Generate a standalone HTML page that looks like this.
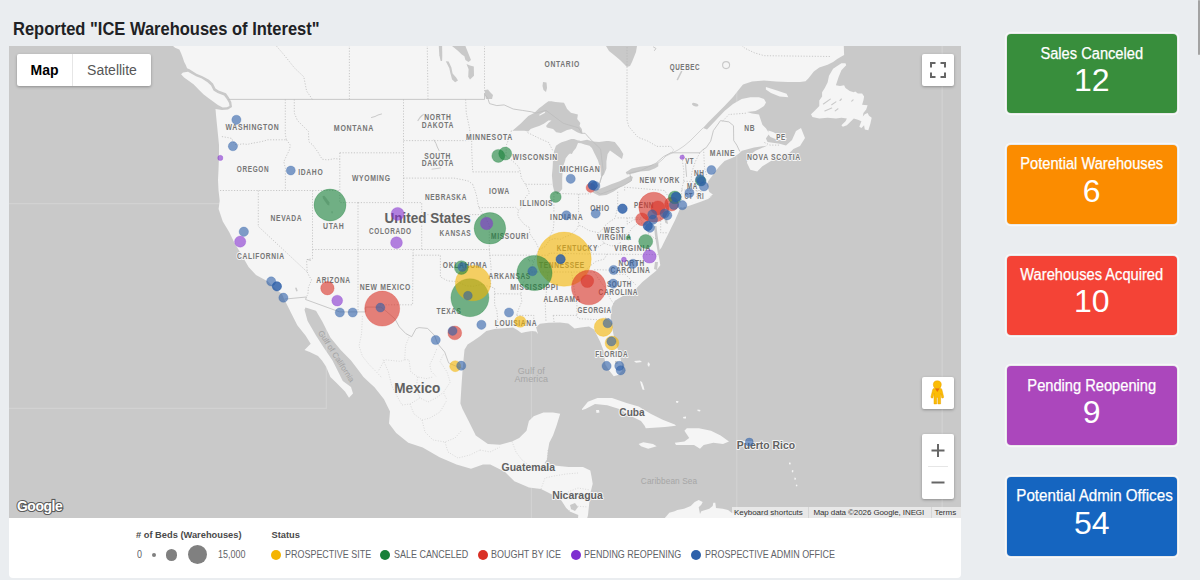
<!DOCTYPE html>
<html><head><meta charset="utf-8"><title>ICE Warehouses</title>
<style>
*{box-sizing:border-box}
html,body{margin:0;padding:0}
body{width:1200px;height:580px;overflow:hidden;background:#eaedf0;font-family:"Liberation Sans",sans-serif;position:relative}
.title{position:absolute;left:13px;top:18.5px;font-size:17.8px;font-weight:bold;color:#202124;white-space:nowrap;transform:scaleX(0.928);transform-origin:0 0}
.map{position:absolute;left:9px;top:46px;width:952px;height:472px;overflow:hidden;background:#c9c9c9}
.map svg{position:absolute;left:0;top:0}
svg text{font-family:"Liberation Sans",sans-serif;text-anchor:middle;dominant-baseline:central;paint-order:stroke;stroke-linejoin:round}
text.s{font-size:8.2px;font-weight:bold;letter-spacing:0.8px;fill:#767676;stroke:#f5f5f5;stroke-width:2px}
text.c{font-size:15px;font-weight:bold;fill:#616161;stroke:#f5f5f5;stroke-width:2.5px}
text.m{font-size:11.2px;font-weight:bold;fill:#616161;stroke:#f5f5f5;stroke-width:2px}
text.w{font-size:9px;fill:#a6a6a6;letter-spacing:0.1px}
text.gc{font-size:8px;fill:#a3a3a3;stroke:#c9c9c9;stroke-width:1px}
.ctl{position:absolute;background:#fff;border-radius:2px;box-shadow:0 1px 3px rgba(0,0,0,0.3)}
.mt{left:8px;top:8px;width:134px;height:32px;font-size:14px}
.mt span{position:absolute;top:0;height:32px;line-height:32px;text-align:center}
.attr{position:absolute;right:0;bottom:0;height:10.6px;background:rgba(245,245,245,0.7);font-size:8px;color:#333;white-space:nowrap;line-height:10.6px}
.attr span{position:absolute;top:0.8px}
.legend{position:absolute;left:9px;top:518px;width:952px;height:60px;background:#fff;border-radius:0 0 4px 4px}
.lg{position:absolute;color:#5f6368;white-space:nowrap}
.lh{font-size:9.3px;font-weight:bold;color:#4a4a4a}
.li{font-size:10.2px;transform:scaleX(0.88);transform-origin:0 0}
.dot{position:absolute;border-radius:50%}
.card{position:absolute;left:1007px;width:169.5px;height:79px;border-radius:4px;color:#fff;text-align:center;box-shadow:0 0 0 1px rgba(0,0,0,0.06),0 0 0 2.2px rgba(255,255,255,0.6)}
.card .t{position:absolute;left:0;right:0;top:10.3px;font-size:15.6px;white-space:nowrap;-webkit-text-stroke:0.25px #fff;transform:scaleX(0.94)}
.card .n{position:absolute;left:0;right:0;top:27.8px;font-size:32px}
.sb{position:absolute;left:1197.7px;top:0;width:2.3px;height:55px;background:#a3a3a3;border-radius:1.2px}
</style></head><body>
<div class="title">Reported "ICE Warehouses of Interest"</div>
<div class="map">
<svg width="952" height="472" viewBox="9 46 952 472">
<g stroke="#d2d2d2" stroke-width="1.2" fill="none">
<path d="M9,203.6 H326.3"/><path d="M9,408.3 H326.3 V203.6"/>
<path d="M531.45,46 V518"/><path d="M736.8,46 V518"/><path d="M942.2,46 V518"/>
</g>
<path d="M173.0,46.0 L843.8,46.0 L844.1,55.0 L841.4,56.4 L837.2,59.1 L833.1,61.9 L827.6,64.7 L819.3,67.4 L813.8,71.6 L808.3,78.4 L805.5,81.2 L800.0,81.9 L788.0,82.0 L776.0,81.5 L764.0,80.5 L752.0,81.5 L743.0,84.5 L738.5,90.0 L733.0,97.0 L724.5,106.0 L716.0,114.5 L708.0,122.5 L703.0,128.0 L707.0,129.5 L716.0,120.0 L724.5,111.0 L733.0,104.0 L741.7,99.0 L750.3,97.2 L759.0,97.2 L764.0,99.0 L766.0,102.4 L764.0,106.0 L759.0,109.3 L755.5,111.0 L747.0,111.9 L752.0,113.5 L759.0,114.5 L760.7,119.7 L762.4,124.8 L765.9,128.3 L769.3,133.4 L765.9,138.6 L767.6,142.0 L779.7,143.8 L786.0,145.5 L792.0,140.0 L796.0,131.0 L801.0,128.0 L805.0,138.0 L800.0,146.0 L793.4,149.0 L790.0,152.4 L781.4,155.9 L771.0,161.0 L762.4,166.2 L757.2,171.4 L750.3,169.7 L746.9,162.8 L748.6,155.9 L755.5,150.7 L767.6,145.6 L754.0,147.5 L742.0,150.7 L738.3,154.1 L733.1,157.6 L724.5,161.0 L719.0,166.7 L715.3,171.6 L711.7,176.4 L708.1,181.2 L706.9,184.8 L708.1,188.4 L709.3,192.1 L712.9,194.5 L708.1,198.1 L700.9,200.5 L691.2,202.9 L682.8,207.8 L680.5,207.0 L678.3,212.7 L674.9,220.5 L671.5,227.2 L668.2,234.0 L664.8,240.7 L661.5,247.4 L658.0,251.9 L659.2,258.6 L660.3,265.3 L655.9,271.0 L649.1,276.5 L642.4,282.1 L636.5,288.3 L630.3,292.4 L622.0,296.5 L614.8,300.7 L611.7,306.9 L610.7,317.2 L611.7,325.5 L613.8,335.8 L616.9,346.2 L620.0,356.5 L622.0,364.8 L622.0,371.0 L618.0,375.0 L613.8,376.2 L609.6,371.0 L605.5,364.8 L604.5,358.6 L603.4,350.3 L600.3,342.0 L597.2,335.8 L594.0,329.6 L589.0,326.5 L580.7,327.6 L574.5,328.6 L568.3,323.4 L560.0,322.5 L548.4,322.8 L540.0,323.8 L536.0,327.0 L538.0,334.0 L536.0,331.5 L531.8,331.0 L525.6,332.0 L521.4,333.0 L517.3,330.0 L513.0,327.5 L507.0,328.0 L494.5,329.0 L486.3,331.0 L480.0,336.2 L473.8,340.4 L467.6,344.5 L464.5,349.7 L463.5,360.0 L462.4,372.5 L461.4,387.0 L460.4,403.5 L462.5,409.0 L468.6,421.0 L475.8,435.5 L487.9,444.0 L500.0,444.7 L512.0,441.5 L519.2,437.9 L526.5,430.7 L528.9,421.0 L533.7,416.2 L543.4,412.6 L553.0,412.6 L560.2,413.8 L556.5,425.8 L553.0,435.5 L549.3,442.7 L548.0,450.0 L547.0,459.6 L544.5,463.2 L554.0,465.6 L568.6,466.9 L583.0,466.9 L590.3,470.5 L591.5,476.5 L592.7,483.7 L590.3,493.4 L589.0,505.5 L588.0,515.0 L587.0,519.0 L578.0,519.0 L578.3,515.0 L569.8,511.5 L566.2,507.9 L561.4,500.6 L554.0,495.5 L541.0,489.0 L529.0,487.4 L514.4,481.3 L504.8,471.7 L490.3,464.4 L483.0,464.4 L471.0,468.8 L456.5,464.4 L439.6,457.2 L422.7,447.6 L408.3,442.7 L396.2,433.0 L389.0,423.4 L390.0,411.4 L384.0,399.3 L374.5,387.2 L367.7,381.0 L363.5,377.0 L357.3,368.7 L351.0,360.4 L340.7,350.0 L330.4,337.6 L322.0,321.0 L316.0,310.7 L305.5,307.6 L304.5,309.7 L307.6,321.0 L316.0,335.5 L324.0,348.0 L332.5,360.4 L338.7,372.8 L342.8,381.0 L351.0,387.0 L353.0,393.5 L349.0,397.7 L345.0,391.4 L336.6,383.0 L330.4,377.0 L326.0,366.6 L322.0,360.4 L318.0,356.0 L309.7,352.0 L304.5,350.0 L310.7,343.8 L305.5,335.5 L297.3,325.2 L291.0,312.8 L283.8,298.3 L282.0,294.0 L276.6,289.7 L268.0,281.4 L256.0,275.0 L248.6,267.0 L241.4,254.5 L234.0,242.0 L229.0,231.8 L222.8,221.4 L218.6,209.0 L219.7,200.7 L218.5,190.0 L218.0,180.0 L218.5,170.0 L219.0,156.0 L219.0,145.0 L218.0,135.0 L217.0,125.0 L216.0,115.0 L215.5,109.0 L222.0,110.0 L228.0,109.5 L232.0,107.0 L231.3,102.0 L228.8,97.3 L226.0,93.2 L218.5,90.6 L215.5,88.5 L213.0,83.5 L209.0,79.8 L202.5,76.2 L196.5,73.8 L189.5,69.2 L187.1,68.3 L185.9,65.3 L184.1,61.7 L182.9,58.1 L181.1,53.2 L179.3,49.6 L175.1,47.8 Z" fill="#f5f5f5"/>
<path d="M181.1,74.3 L184.1,77.4 L189.0,81.0 L193.8,84.6 L198.6,89.4 L203.4,94.3 L208.3,97.9 L213.1,101.5 L217.9,105.1 L222.7,107.5 L226.9,107.3 L229.5,106.0 L229.0,103.0 L226.5,98.8 L224.0,95.5 L217.5,93.0 L213.5,90.5 L211.0,85.5 L207.5,82.2 L201.8,78.6 L196.0,76.2 L188.0,71.8 L183.0,72.5 Z" fill="#f5f5f5"/>
<path d="M845.5,63.3 L846.2,65.3 L841.4,70.2 L838.6,77.1 L835.9,85.3 L840.0,86.0 L844.1,85.3 L845.5,88.1 L849.7,90.9 L853.8,92.2 L855.2,91.6 L857.9,93.6 L862.1,93.6 L864.1,96.4 L863.4,100.5 L862.1,104.7 L867.6,105.3 L866.2,109.5 L863.4,112.9 L862.8,116.4 L864.8,114.3 L867.6,112.9 L869.0,115.7 L871.7,117.8 L870.3,124.0 L868.3,130.2 L864.8,129.5 L864.1,125.3 L861.4,128.1 L859.3,126.7 L861.4,121.2 L857.9,119.8 L853.8,118.4 L851.0,121.2 L846.9,125.3 L842.8,126.7 L841.4,125.3 L845.5,121.2 L846.9,118.4 L841.4,117.8 L835.9,118.4 L827.6,117.8 L819.3,118.4 L812.4,117.1 L811.0,114.3 L815.2,110.2 L819.3,106.0 L819.3,100.5 L822.1,96.4 L822.1,92.2 L824.8,88.1 L827.6,82.6 L829.0,75.7 L833.1,68.8 L837.2,66.0 L841.4,63.3 Z" fill="#f5f5f5"/>
<path d="M765.9,86.9 L776.2,90.3 L786.6,93.8 L788.3,97.2 L779.7,96.4 L771.0,92.9 L765.9,89.5 Z" fill="#f5f5f5"/>
<path d="M768.5,130.5 L773.0,132.0 L779.0,135.0 L787.0,138.6 L785.0,141.0 L776.5,139.5 L770.5,137.0 L768.0,134.0 Z" fill="#f5f5f5"/>
<path d="M582.0,409.0 L587.9,401.7 L597.5,398.0 L612.0,398.0 L626.5,403.0 L638.6,406.5 L650.6,413.8 L662.7,419.8 L674.8,424.6 L676.0,425.8 L665.0,427.0 L645.8,428.3 L644.6,425.8 L641.0,421.0 L631.3,416.2 L619.3,409.0 L607.2,405.3 L595.0,404.0 L585.5,409.0 L582.0,410.0 Z" fill="#f5f5f5"/>
<path d="M596.0,410.0 L599.0,410.0 L599.5,412.5 L596.5,413.0 Z" fill="#f5f5f5"/>
<path d="M638.6,444.0 L643.4,442.2 L653.0,444.0 L656.7,446.3 L648.2,448.8 L641.0,446.3 Z" fill="#f5f5f5"/>
<path d="M674.8,442.7 L684.4,441.5 L689.2,437.9 L684.4,430.7 L686.8,428.3 L698.9,428.3 L711.0,430.7 L720.6,435.5 L729.0,441.5 L723.0,444.0 L713.4,442.7 L703.7,445.0 L700.0,448.8 L694.0,445.0 L684.4,445.0 L676.0,445.0 Z" fill="#f5f5f5"/>
<path d="M640.0,381.0 L642.0,382.0 L643.5,386.0 L644.5,390.0 L642.5,389.5 L641.0,385.0 Z" fill="#f5f5f5"/>
<path d="M634.0,361.0 L640.0,360.5 L642.0,362.0 L636.0,362.8 Z" fill="#f5f5f5"/>
<path d="M648.0,362.0 L650.0,364.0 L649.0,367.0 L647.5,365.0 Z" fill="#f5f5f5"/>
<path d="M676.0,401.0 L678.5,401.0 L678.0,403.0 L676.0,402.5 Z" fill="#f5f5f5"/>
<path d="M683.0,417.0 L686.0,416.5 L686.0,418.5 L683.5,418.5 Z" fill="#f5f5f5"/>
<path d="M697.5,409.5 L700.5,410.0 L700.0,411.5 L697.5,411.0 Z" fill="#f5f5f5"/>
<path d="M789.0,462.5 L790.8,462.8 L790.5,464.5 L789.0,464.2 Z" fill="#f5f5f5"/>
<path d="M792.0,470.0 L793.5,470.5 L793.0,472.5 L791.8,472.0 Z" fill="#f5f5f5"/>
<path d="M794.5,477.5 L796.0,478.0 L795.5,480.0 L794.3,479.5 Z" fill="#f5f5f5"/>
<path d="M796.0,484.5 L797.5,485.0 L797.0,486.5 L795.8,486.0 Z" fill="#f5f5f5"/>
<path d="M741.0,441.0 L752.0,441.0 L753.0,444.0 L742.0,444.5 Z" fill="#f5f5f5"/>
<path d="M664.0,519.0 L669.3,512.7 L674.7,511.3 L677.3,510.0 L684.0,508.7 L690.7,506.0 L694.7,502.0 L698.7,500.0 L702.7,502.0 L701.3,504.7 L698.7,507.3 L700.0,514.0 L701.3,511.3 L709.3,508.7 L712.7,506.0 L713.3,502.7 L715.3,502.7 L716.0,508.0 L722.7,508.7 L728.0,510.0 L732.0,513.0 L740.0,514.0 L760.0,516.0 L780.0,517.0 L800.0,519.0 Z" fill="#f5f5f5"/>
<path d="M684.0,205.0 L690.0,203.0 L700.0,200.0 L708.0,197.5 L712.0,196.0 L708.0,199.0 L700.0,202.0 L690.0,205.5 L685.0,207.0 Z" fill="#f5f5f5"/>
<path d="M512.4,130.7 L520.5,123.7 L528.3,116.0 L534.5,112.8 L539.1,108.2 L542.2,105.9 L545.3,103.5 L548.4,101.2 L551.5,101.2 L555.4,102.0 L564.0,102.8 L567.1,109.0 L570.9,112.8 L577.9,114.4 L577.2,119.0 L580.3,122.9 L579.5,126.0 L581.8,129.1 L582.5,133.5 L580.3,133.5 L577.2,132.2 L571.7,129.1 L567.1,129.9 L560.9,133.0 L556.2,132.2 L553.1,129.1 L546.9,127.6 L546.1,126.0 L548.4,122.9 L551.5,120.6 L548.4,120.6 L543.8,123.7 L539.1,126.0 L534.5,127.6 L530.6,129.1 L528.3,131.5 L524.4,130.7 L520.5,130.7 L515.1,130.7 Z" fill="#c9c9c9"/>
<path d="M554.0,151.3 L556.0,145.8 L558.8,143.7 L561.6,142.3 L565.7,141.0 L571.2,138.9 L574.0,138.9 L578.1,140.5 L580.3,140.7 L578.0,143.0 L577.4,144.4 L576.0,147.9 L573.3,151.3 L571.9,154.1 L570.0,153.5 L568.4,154.8 L565.7,158.2 L565.0,161.0 L563.6,165.1 L562.5,172.0 L562.2,178.6 L562.2,189.0 L558.0,194.0 L554.5,192.4 L552.8,185.5 L551.9,175.2 L552.6,168.0 L553.0,160.0 Z" fill="#c9c9c9"/>
<path d="M578.0,140.7 L581.0,140.9 L587.1,139.7 L593.1,141.5 L599.1,142.1 L606.4,140.9 L608.8,140.9 L614.8,142.1 L619.6,148.1 L623.3,154.1 L622.0,159.0 L618.4,156.5 L613.6,152.9 L610.0,150.5 L607.6,154.1 L606.4,161.4 L606.4,168.6 L604.0,174.6 L601.5,177.0 L600.9,175.8 L600.3,168.6 L597.9,160.2 L594.3,152.9 L591.9,148.1 L589.5,145.7 L584.7,144.5 L581.0,143.3 L578.0,143.0 Z" fill="#c9c9c9"/>
<path d="M593.1,191.5 L593.1,192.7 L599.1,195.7 L606.4,195.1 L613.6,191.5 L620.8,186.7 L628.1,183.1 L631.7,180.7 L632.9,177.0 L630.5,175.8 L625.7,178.3 L619.6,181.3 L611.2,184.3 L605.2,186.7 L599.1,189.1 L594.3,190.3 Z" fill="#c9c9c9"/>
<path d="M625.7,172.2 L631.7,168.6 L640.0,166.8 L649.0,165.5 L655.2,164.0 L658.3,162.0 L658.3,166.2 L655.2,168.3 L649.0,170.8 L640.0,171.6 L632.9,173.4 L626.9,174.6 Z" fill="#c9c9c9"/>
<path d="M452.0,46.0 L465.4,46.0 L469.1,55.3 L471.0,60.0 L468.5,62.0 L465.4,60.0 L464.4,56.2 L461.7,54.4 L457.9,50.7 Z" fill="#c9c9c9"/>
<path d="M466.5,64.0 L470.0,65.5 L473.8,66.5 L474.0,75.8 L470.0,79.5 L468.2,76.7 L468.6,69.3 Z" fill="#c9c9c9"/>
<path d="M445.8,61.2 L448.6,61.5 L451.4,67.4 L452.6,73.5 L456.1,77.4 L458.0,80.4 L455.1,82.3 L452.1,79.5 L450.3,73.0 L449.3,68.3 Z" fill="#c9c9c9"/>
<path d="M438.8,46.0 L442.1,46.0 L442.3,55.3 L442.1,60.9 L440.7,60.9 L439.3,55.3 Z" fill="#c9c9c9"/>
<path d="M606.0,46.0 L637.0,46.0 L636.0,52.0 L634.0,57.0 L632.0,62.0 L630.0,66.0 L627.0,67.0 L624.0,64.0 L620.0,60.0 L614.0,55.0 L609.0,51.0 Z" fill="#c9c9c9"/>
<path d="M543.0,82.0 L546.5,82.5 L547.0,88.0 L546.0,92.0 L543.5,90.0 L542.5,86.0 Z" fill="#c9c9c9"/>
<path d="M485.0,90.0 L488.0,89.5 L490.0,92.0 L493.0,95.0 L492.0,99.0 L486.0,99.0 L485.0,95.0 Z" fill="#c9c9c9"/>
<path d="M322.5,196.0 L324.5,195.8 L327.0,199.0 L329.5,202.5 L329.3,205.5 L327.5,205.0 L325.0,201.5 L323.0,198.5 Z" fill="#c9c9c9"/>
<path d="M331.5,211.0 L332.8,211.5 L332.6,213.5 L331.4,213.0 Z" fill="#c9c9c9"/>
<path d="M615.0,361.0 L617.5,361.0 L617.5,364.0 L615.0,364.0 Z" fill="#c9c9c9"/>
<path d="M570.0,505.0 L575.0,503.0 L578.0,507.0 L575.0,511.0 L571.0,509.0 Z" fill="#c9c9c9"/>
<path d="M654.0,226.0 L656.5,226.0 L657.5,235.0 L659.0,245.0 L660.0,253.0 L658.0,254.0 L656.5,245.0 L655.0,236.0 Z" fill="#c9c9c9"/>
<path d="M664.0,218.0 L667.0,219.0 L668.0,224.0 L665.5,223.0 Z" fill="#c9c9c9"/>
<path d="M655.0,262.0 L658.0,262.0 L657.0,270.0 L654.0,269.0 Z" fill="#c9c9c9"/>
<path d="M539.1,114.8 L544.6,111.6 L545.2,112.7 L539.6,115.7 Z" fill="#f5f5f5"/>
<path d="M371.5,117.5 L375.0,116.5 L378.0,115.0 L381.5,114.0" fill="none" stroke="#c9c9c9" stroke-width="1.0" stroke-linecap="round" stroke-linejoin="round"/>
<path d="M418.0,120.5 L420.0,117.5 L422.0,115.5 L424.5,114.0" fill="none" stroke="#c9c9c9" stroke-width="1.2" stroke-linecap="round" stroke-linejoin="round"/>
<path d="M434.0,140.0 L436.0,143.5 L437.3,147.0 L439.0,150.5" fill="none" stroke="#c9c9c9" stroke-width="1.0" stroke-linecap="round" stroke-linejoin="round"/>
<path d="M432.0,169.2 L436.0,168.6 L440.5,168.0" fill="none" stroke="#c9c9c9" stroke-width="0.9" stroke-linecap="round" stroke-linejoin="round"/>
<path d="M685.6,163.5 L686.0,170.0 L686.6,176.5" fill="none" stroke="#c9c9c9" stroke-width="1.0" stroke-linecap="round" stroke-linejoin="round"/>
<path d="M681.5,71.5 L679.5,75.5 L677.5,79.5" fill="none" stroke="#c9c9c9" stroke-width="1.6" stroke-linecap="round" stroke-linejoin="round"/>
<path d="M653.5,47.0 L656.0,48.5 L654.5,50.5" fill="none" stroke="#c9c9c9" stroke-width="1.0" stroke-linecap="round" stroke-linejoin="round"/>
<path d="M296.0,288.3 L296.8,290.6" fill="none" stroke="#c9c9c9" stroke-width="1.6" stroke-linecap="round" stroke-linejoin="round"/>
<path d="M307.5,259.5 L310.5,260.3" fill="none" stroke="#c9c9c9" stroke-width="1.0" stroke-linecap="round" stroke-linejoin="round"/>
<circle cx="726.1" cy="65.1" r="3.5" fill="none" stroke="#c9c9c9" stroke-width="1.1"/>
<ellipse cx="695.2" cy="104.7" rx="3.3" ry="1.5" transform="rotate(18 695.2 104.7)" fill="#c9c9c9"/>
<path d="M823.4,104.0 L830.3,99.1" stroke="#c9c9c9" stroke-width="1.1" stroke-linecap="round"/>
<path d="M831.7,104.7 L835.9,101.9" stroke="#c9c9c9" stroke-width="1.1" stroke-linecap="round"/>
<path d="M824.8,110.9 L831.7,108.1" stroke="#c9c9c9" stroke-width="1.1" stroke-linecap="round"/>
<path d="M835.2,110.9 L838.0,108.8" stroke="#c9c9c9" stroke-width="1.1" stroke-linecap="round"/>
<path d="M840.0,100.5 L841.4,99.0" stroke="#c9c9c9" stroke-width="1.1" stroke-linecap="round"/>
<path d="M851.7,101.2 L853.1,99.8" stroke="#c9c9c9" stroke-width="1.1" stroke-linecap="round"/>
<path d="M601.5,176.5 L600.5,180.0 L599.7,183.0 L598.8,185.5 L597.3,189.0 L595.5,191.5" fill="none" stroke="#cfcfcf" stroke-width="0.9" stroke-linejoin="round" stroke-linecap="round"/>
<path d="M703.0,128.0 L696.0,135.0 L690.0,141.0 L684.0,146.0 L678.0,150.0 L672.0,153.0 L666.0,156.0 L662.0,160.0 L658.3,163.0" fill="none" stroke="#cfcfcf" stroke-width="0.9" stroke-linejoin="round" stroke-linecap="round"/>
<g fill="none" stroke="#c4c4c4" stroke-width="0.6" stroke-dasharray="1 1.6"><path d="M362.4,316.0 L361.6,333.8 L359.0,345.9 L362.4,356.2 L369.3,364.8 L376.2,371.7 L382.0,378.0"/><path d="M409.0,337.2 L405.5,345.9 L404.7,359.7 L400.3,361.4 L392.0,360.5 L384.8,359.7 L377.9,371.7"/><path d="M436.6,349.3 L433.1,357.9 L429.7,364.8 L431.4,371.7 L436.6,376.9"/><path d="M443.4,354.5 L440.0,361.4 L446.9,371.7 L450.3,382.1 L443.4,392.4 L447.0,400.0"/><path d="M404.7,359.7 L409.0,359.7 L410.7,371.7 L417.6,376.9 L426.2,378.6 L433.1,376.9"/><path d="M383.1,359.7 L388.3,371.7 L391.7,385.5 L396.9,395.9 L402.0,405.0"/><path d="M417.6,376.9 L416.0,390.0 L420.0,398.0 L428.0,402.0 L436.0,398.0 L443.4,392.4"/><path d="M402.0,405.0 L410.0,404.0 L420.0,398.0"/><path d="M410.0,404.0 L414.0,414.0 L422.0,420.0 L430.0,418.0 L440.0,412.0 L447.0,400.0"/><path d="M422.0,420.0 L425.0,432.0 L433.0,440.0 L445.0,442.0 L455.0,438.0 L462.0,430.0"/><path d="M445.0,442.0 L448.0,452.0 L458.0,458.0 L470.0,455.0 L480.0,450.0"/><path d="M480.0,450.0 L490.0,452.0 L500.0,447.0"/><path d="M512.0,441.5 L516.0,452.0 L522.0,460.0 L530.0,466.0"/><path d="M530.0,466.0 L541.0,468.0 L548.0,462.0"/><path d="M548.0,450.0 L547.0,462.0"/><path d="M541.0,489.0 L545.0,478.0 L554.0,476.0 L566.0,474.0 L578.0,473.0"/><path d="M561.0,500.0 L568.0,492.0 L578.0,488.0 L590.0,490.0"/><path d="M569.0,511.0 L575.0,506.0 L588.0,507.0"/></g>
<g fill="none" stroke="#b4b4b4" stroke-width="0.7" stroke-dasharray="1.2 1.6"><path d="M221.9,136.6 L227.4,137.5 L231.9,138.5 L233.0,141.8 L236.5,145.4 L242.0,143.8 L247.4,144.4 L252.9,143.1 L259.2,142.1 L264.7,140.8 L267.6,139.8 L286.4,139.8"/><path d="M285.3,99.4 L285.3,134.3 L286.4,139.8"/><path d="M286.4,139.8 L290.4,145.1 L289.3,150.2 L287.0,154.8 L283.8,161.8 L285.4,168.1 L285.4,190.5"/><path d="M220.0,190.5 L339.8,190.5"/><path d="M294.3,99.4 L294.3,113.1 L297.5,120.6 L304.3,127.3 L308.4,131.3 L308.9,141.8 L312.9,145.1 L318.0,152.2 L322.1,159.2 L327.5,159.9 L334.8,158.6 L339.8,159.2"/><path d="M339.8,152.8 L339.8,202.6 L358.0,202.6"/><path d="M339.8,152.8 L403.5,152.8"/><path d="M403.5,99.4 L403.5,202.6"/><path d="M358.0,202.6 L421.7,202.6 L421.7,249.5"/><path d="M258.3,190.5 L258.3,226.4 L307.2,272.0"/><path d="M312.5,190.5 L312.5,258.6 L306.6,259.7 L307.2,272.0"/><path d="M307.2,272.0 L309.3,276.4 L311.6,279.8 L308.4,287.4 L307.9,294.0 L306.4,297.0"/><path d="M312.5,249.5 L489.3,249.5"/><path d="M358.0,202.6 L358.0,311.9"/><path d="M413.1,249.5 L412.6,304.8 L380.1,304.8"/><path d="M412.7,255.2 L440.4,255.2 L440.4,276.9 L447.7,280.9 L457.7,281.6 L465.9,285.8 L473.1,286.3 L481.3,284.4 L490.6,287.0"/><path d="M421.7,214.6 L483.1,214.6"/><path d="M489.3,249.5 L489.3,225.2 L486.8,220.5 L485.0,215.8 L483.1,214.6"/><path d="M403.5,178.1 L454.0,178.1 L464.0,180.0 L468.6,181.2 L472.7,184.3"/><path d="M472.7,184.3 L475.0,190.5 L476.8,196.6 L477.7,202.6 L478.9,207.7 L483.1,214.6"/><path d="M403.5,140.6 L471.7,140.6"/><path d="M465.6,99.4 L466.3,113.1 L469.2,126.6 L471.3,139.8 L471.7,140.6 L471.7,149.0 L472.7,171.9"/><path d="M472.7,171.9 L520.3,171.9"/><path d="M478.9,207.7 L515.7,207.4 L518.5,210.1"/><path d="M489.3,255.2 L530.0,255.2 L528.0,260.8 L534.1,260.8"/><path d="M489.3,249.5 L491.1,267.6 L490.6,287.0 L494.6,288.0 L494.6,304.9 L496.8,310.1 L497.7,319.7 L496.4,329.1"/><path d="M494.6,293.7 L520.8,294.0"/><path d="M502.3,152.8 L505.9,156.0 L511.4,159.9 L518.7,166.8 L520.3,171.9 L521.4,178.1 L525.5,184.3 L529.6,192.9 L525.9,196.6 L521.4,207.4 L518.5,210.1 L517.7,214.6 L519.1,218.2 L525.0,225.2 L529.6,227.6 L529.6,233.4 L536.0,242.6 L539.1,249.5 L536.0,255.2 L534.1,260.8 L530.5,270.9 L525.9,278.6 L522.3,284.1 L520.9,294.0 L521.8,301.5 L518.7,309.0 L516.6,315.4"/><path d="M516.6,315.4 L533.9,315.4 L533.7,319.7 L535.5,323.9"/><path d="M511.4,130.6 L510.5,134.6 L506.4,145.1 L505.9,156.0"/><path d="M527.6,132.6 L539.6,138.5 L548.7,142.5 L553.2,151.5"/><path d="M525.6,184.3 L551.4,184.3"/><path d="M553.9,193.4 L553.9,222.9 L553.2,229.9 L550.1,235.7 L549.3,240.3"/><path d="M578.6,194.1 L578.6,225.2"/><path d="M556.9,193.4 L578.6,194.1 L591.0,193.8"/><path d="M539.1,249.5 L545.1,246.6 L549.3,240.3 L554.2,238.6 L560.5,239.2 L565.1,236.9 L570.1,235.1 L576.9,229.3 L578.6,225.2 L583.3,227.0 L588.7,230.5 L598.8,232.8 L602.4,229.3 L604.2,226.4 L608.8,222.3 L615.1,218.2 L617.7,207.0"/><path d="M536.0,255.2 L549.0,255.2 L549.2,253.1 L588.9,254.0 L660.0,254.6"/><path d="M588.9,254.0 L598.8,246.6 L604.2,243.2 L598.8,236.1 L598.8,232.8"/><path d="M604.2,243.2 L611.5,246.1 L619.7,243.8 L622.4,236.9 L628.8,232.8 L632.4,227.6 L637.0,224.1 L642.4,222.9 L643.4,222.9"/><path d="M627.2,217.9 L627.2,224.1 L633.3,219.9 L640.6,219.3 L643.4,222.9"/><path d="M643.4,222.9 L648.8,227.0 L649.7,228.7 L647.9,233.4 L654.3,238.0 L656.6,239.0"/><path d="M607.1,254.0 L604.2,259.1 L596.0,261.4 L590.6,265.6 L583.3,272.0"/><path d="M528.7,272.0 L594.2,272.0"/><path d="M547.8,272.0 L545.3,305.8 L546.0,321.8"/><path d="M571.5,272.0 L575.3,295.6 L576.9,302.6 L576.9,315.4"/><path d="M553.2,315.4 L576.9,315.4 L578.2,318.6 L602.4,320.0 L604.2,320.7 L605.1,318.1 L609.2,318.6"/><path d="M553.2,315.4 L554.2,322.8"/><path d="M594.2,272.0 L596.9,276.4 L601.5,283.1 L606.0,288.5 L607.9,294.0 L610.6,299.4 L614.2,304.2"/><path d="M594.2,269.8 L600.6,269.8 L613.3,270.3 L614.2,274.0 L625.2,274.2 L635.6,284.7"/><path d="M617.7,217.9 L660.7,217.9"/><path d="M660.7,217.9 L660.7,232.8 L667.5,232.8"/><path d="M617.7,207.0 L617.7,190.5"/><path d="M624.6,190.5 L624.6,187.2 L664.7,190.5 L667.5,195.4 L670.8,198.3"/><path d="M670.8,198.3 L677.0,202.6"/><path d="M670.8,198.3 L667.0,204.4 L667.9,209.8 L670.2,212.8 L666.1,216.4 L662.9,219.3"/><path d="M680.2,202.6 L681.6,199.0 L681.6,189.9 L683.7,181.2 L683.9,170.6 L682.5,161.8 L683.0,152.8"/><path d="M699.8,152.8 L695.2,161.8 L691.6,173.1 L691.1,181.5"/><path d="M683.7,181.2 L701.6,181.9 L706.2,179.7"/><path d="M681.6,189.9 L697.1,190.5 L700.9,190.5 L700.9,191.7 L703.3,196.6"/><path d="M697.1,190.5 L696.6,198.8"/><path d="M703.6,149.0 L704.5,168.1 L707.1,176.9"/><path d="M312.4,99.4 L306.6,91.0 L303.8,76.8 L294.7,68.2 L282.9,53.5 L273.8,43.0"/><path d="M349.4,99.4 L349.4,41.5"/><path d="M428.0,99.4 L427.2,41.5"/><path d="M484.5,94.1 L484.5,44.1 L487.7,41.5"/><path d="M627.0,41.5 L627.0,119.9 L628.8,126.6 L637.9,137.2 L647.9,141.1 L657.0,146.4 L670.7,146.4 L673.9,150.2 L670.7,152.8"/><path d="M722.5,121.3 L728.9,114.5 L747.1,113.1"/><path d="M741.7,45.3 L745.0,48.3 L754.4,52.8 L764.2,55.7 L830.9,56.5"/><path d="M764.4,142.5 L769.9,145.1 L779.9,145.1"/></g>
<g fill="none" stroke="#bdbdbd" stroke-width="0.8"><path d="M228.3,99.4 L484.5,99.4 L484.5,94.1 L487.7,98.0 L489.5,103.6 L496.8,105.6 L504.1,104.9 L513.2,109.0 L522.3,110.4 L531.4,111.8 L536.0,113.1"/><path d="M284.6,299.1 L306.4,297.0 L305.6,299.5 L339.6,311.9 L365.7,311.9 L365.7,307.1 L380.9,307.1 L386.2,311.2 L394.9,318.8 L399.4,327.0 L405.8,333.6 L411.7,336.7 L416.0,328.7 L419.0,327.6 L427.6,328.4 L434.5,335.4 L437.6,343.7 L444.7,352.0 L448.6,362.9 L456.8,366.6 L464.0,368.9 L466.3,367.8"/><path d="M656.1,163.1 L663.4,156.7 L670.7,152.8 L699.8,152.8 L703.6,149.0 L706.2,147.7 L710.7,141.1 L713.4,130.6 L720.5,120.6 L728.9,121.9 L733.5,125.7 L733.7,140.5 L736.8,145.1 L739.8,151.5"/><path d="M536.0,113.1 L546.0,110.4 L563.3,123.3 L578.7,127.9 L581.5,133.3 L585.1,133.3 L589.7,138.5 L600.6,149.0 L603.3,171.9 L599.7,183.1 L594.2,190.5 L600.6,194.1 L623.3,185.6 L631.5,180.6 L629.7,173.1 L640.6,170.6 L656.1,163.1"/></g>
<text class="s" x="252.5" y="127.5" textLength="54" lengthAdjust="spacingAndGlyphs">WASHINGTON</text>
<text class="s" x="253" y="169.5" textLength="32.4" lengthAdjust="spacingAndGlyphs">OREGON</text>
<text class="s" x="310.8" y="172.5" textLength="25" lengthAdjust="spacingAndGlyphs">IDAHO</text>
<text class="s" x="354" y="128.5" textLength="40.3" lengthAdjust="spacingAndGlyphs">MONTANA</text>
<text class="s" x="371.3" y="178.9" textLength="38.8" lengthAdjust="spacingAndGlyphs">WYOMING</text>
<text class="s" x="437.9" y="117.9" textLength="27.1" lengthAdjust="spacingAndGlyphs">NORTH</text>
<text class="s" x="437.9" y="125.2" textLength="32.4" lengthAdjust="spacingAndGlyphs">DAKOTA</text>
<text class="s" x="437.7" y="156.5" textLength="26.7" lengthAdjust="spacingAndGlyphs">SOUTH</text>
<text class="s" x="437.9" y="163.6" textLength="32.4" lengthAdjust="spacingAndGlyphs">DAKOTA</text>
<text class="s" x="446" y="197.2" textLength="42" lengthAdjust="spacingAndGlyphs">NEBRASKA</text>
<text class="s" x="455.5" y="233.5" textLength="31.8" lengthAdjust="spacingAndGlyphs">KANSAS</text>
<text class="s" x="510" y="236.0" textLength="37.8" lengthAdjust="spacingAndGlyphs">MISSOURI</text>
<text class="s" x="465.2" y="265.5" textLength="44.7" lengthAdjust="spacingAndGlyphs">OKLAHOMA</text>
<text class="s" x="509.7" y="276.5" textLength="42.2" lengthAdjust="spacingAndGlyphs">ARKANSAS</text>
<text class="s" x="449" y="311.2" textLength="25" lengthAdjust="spacingAndGlyphs">TEXAS</text>
<text class="s" x="516" y="323.2" textLength="42.4" lengthAdjust="spacingAndGlyphs">LOUISIANA</text>
<text class="s" x="534.5" y="287.6" textLength="48.4" lengthAdjust="spacingAndGlyphs">MISSISSIPPI</text>
<text class="s" x="562.2" y="299.6" textLength="37.6" lengthAdjust="spacingAndGlyphs">ALABAMA</text>
<text class="s" x="594.6" y="310.5" textLength="34.1" lengthAdjust="spacingAndGlyphs">GEORGIA</text>
<text class="s" x="611.7" y="354.7" textLength="33.1" lengthAdjust="spacingAndGlyphs">FLORIDA</text>
<text class="s" x="619.5" y="284.9" textLength="25" lengthAdjust="spacingAndGlyphs">SOUTH</text>
<text class="s" x="618.4" y="292.0" textLength="39.7" lengthAdjust="spacingAndGlyphs">CAROLINA</text>
<text class="s" x="631.7" y="263.2" textLength="26.3" lengthAdjust="spacingAndGlyphs">NORTH</text>
<text class="s" x="630.5" y="270.0" textLength="40" lengthAdjust="spacingAndGlyphs">CAROLINA</text>
<text class="s" x="632.5" y="248.7" textLength="37" lengthAdjust="spacingAndGlyphs">VIRGINIA</text>
<text class="s" x="614.4" y="230.1" textLength="21.3" lengthAdjust="spacingAndGlyphs">WEST</text>
<text class="s" x="614.4" y="237.3" textLength="34.8" lengthAdjust="spacingAndGlyphs">VIRGINIA</text>
<text class="s" x="577.3" y="248.7" textLength="41.3" lengthAdjust="spacingAndGlyphs">KENTUCKY</text>
<text class="s" x="562" y="265.5" textLength="45.8" lengthAdjust="spacingAndGlyphs">TENNESSEE</text>
<text class="s" x="600" y="208.5" textLength="19.5" lengthAdjust="spacingAndGlyphs">OHIO</text>
<text class="s" x="566.7" y="217.2" textLength="33.3" lengthAdjust="spacingAndGlyphs">INDIANA</text>
<text class="s" x="536.5" y="203.8" textLength="33.3" lengthAdjust="spacingAndGlyphs">ILLINOIS</text>
<text class="s" x="499.5" y="191.8" textLength="21" lengthAdjust="spacingAndGlyphs">IOWA</text>
<text class="s" x="489.5" y="137.9" textLength="46.9" lengthAdjust="spacingAndGlyphs">MINNESOTA</text>
<text class="s" x="535.2" y="157.2" textLength="45.2" lengthAdjust="spacingAndGlyphs">WISCONSIN</text>
<text class="s" x="580.1" y="169.3" textLength="40.8" lengthAdjust="spacingAndGlyphs">MICHIGAN</text>
<text class="s" x="659.7" y="180.4" textLength="40.6" lengthAdjust="spacingAndGlyphs">NEW YORK</text>
<text class="s" x="644" y="205.5" textLength="20" lengthAdjust="spacingAndGlyphs">PENN</text>
<text class="s" x="689.7" y="161.2" textLength="9" lengthAdjust="spacingAndGlyphs">VT</text>
<text class="s" x="699.2" y="173.9" textLength="10.6" lengthAdjust="spacingAndGlyphs">NH</text>
<text class="s" x="692.4" y="186.9" textLength="10.8" lengthAdjust="spacingAndGlyphs">MA</text>
<text class="s" x="688.8" y="196.8" textLength="8.4" lengthAdjust="spacingAndGlyphs">CT</text>
<text class="s" x="700.7" y="196.8" textLength="7" lengthAdjust="spacingAndGlyphs">RI</text>
<text class="s" x="722.5" y="153.3" textLength="25.4" lengthAdjust="spacingAndGlyphs">MAINE</text>
<text class="s" x="749.8" y="128.4" textLength="10.9" lengthAdjust="spacingAndGlyphs">NB</text>
<text class="s" x="781" y="137.9" textLength="9.5" lengthAdjust="spacingAndGlyphs">PE</text>
<text class="s" x="773.9" y="157.2" textLength="54" lengthAdjust="spacingAndGlyphs">NOVA SCOTIA</text>
<text class="s" x="685" y="67.2" textLength="30.6" lengthAdjust="spacingAndGlyphs">QUEBEC</text>
<text class="s" x="562.2" y="64.3" textLength="35.3" lengthAdjust="spacingAndGlyphs">ONTARIO</text>
<text class="s" x="260.9" y="256.0" textLength="47.7" lengthAdjust="spacingAndGlyphs">CALIFORNIA</text>
<text class="s" x="286.4" y="218.5" textLength="31.8" lengthAdjust="spacingAndGlyphs">NEVADA</text>
<text class="s" x="333.7" y="226.3" textLength="21.4" lengthAdjust="spacingAndGlyphs">UTAH</text>
<text class="s" x="390.4" y="231.2" textLength="42.7" lengthAdjust="spacingAndGlyphs">COLORADO</text>
<text class="s" x="333.5" y="280.5" textLength="34.5" lengthAdjust="spacingAndGlyphs">ARIZONA</text>
<text class="s" x="385.4" y="287.1" textLength="51.3" lengthAdjust="spacingAndGlyphs">NEW MEXICO</text>
<text class="c" x="427.6" y="217.8" textLength="86.3" lengthAdjust="spacingAndGlyphs">United States</text>
<text class="c" x="417.3" y="387.5" textLength="46" lengthAdjust="spacingAndGlyphs">Mexico</text>
<text class="m" x="632" y="412.3" textLength="25.3" lengthAdjust="spacingAndGlyphs">Cuba</text>
<text class="m" x="528.3" y="466.6" textLength="53.4" lengthAdjust="spacingAndGlyphs">Guatemala</text>
<text class="m" x="577.5" y="495.1" textLength="50.7" lengthAdjust="spacingAndGlyphs">Nicaragua</text>
<text class="m" x="765.9" y="444.7" textLength="58.2" lengthAdjust="spacingAndGlyphs">Puerto Rico</text>
<text class="w" x="669" y="480.5" textLength="56.3" lengthAdjust="spacingAndGlyphs">Caribbean Sea</text>
<text class="gc" x="336.5" y="356.5" transform="rotate(57 336.5 356)">Gulf of California</text>
<text class="w" x="531.3" y="370.7">Gulf of</text>
<text class="w" x="531.3" y="379.1">America</text>
<circle cx="330" cy="205" r="16" fill="#188038" fill-opacity="0.6" stroke="#188038" stroke-opacity="0.25" stroke-width="1"/>
<circle cx="564.1" cy="259.2" r="27.1" fill="#f4b400" fill-opacity="0.6" stroke="#f4b400" stroke-opacity="0.25" stroke-width="1"/>
<circle cx="469.9" cy="297.7" r="19" fill="#188038" fill-opacity="0.6" stroke="#188038" stroke-opacity="0.25" stroke-width="1"/>
<circle cx="473" cy="283.2" r="17.6" fill="#f4b400" fill-opacity="0.6" stroke="#f4b400" stroke-opacity="0.25" stroke-width="1"/>
<circle cx="534.5" cy="273" r="17.6" fill="#188038" fill-opacity="0.6" stroke="#188038" stroke-opacity="0.25" stroke-width="1"/>
<circle cx="588.8" cy="287.5" r="17.3" fill="#d93025" fill-opacity="0.6" stroke="#d93025" stroke-opacity="0.25" stroke-width="1"/>
<circle cx="382.2" cy="308.6" r="17.5" fill="#d93025" fill-opacity="0.6" stroke="#d93025" stroke-opacity="0.25" stroke-width="1"/>
<circle cx="489.9" cy="228.3" r="15.8" fill="#188038" fill-opacity="0.6" stroke="#188038" stroke-opacity="0.25" stroke-width="1"/>
<circle cx="653.8" cy="207.2" r="15" fill="#d93025" fill-opacity="0.6" stroke="#d93025" stroke-opacity="0.25" stroke-width="1"/>
<circle cx="236.4" cy="119.8" r="4.6" fill="#2d5fa8" fill-opacity="0.6" stroke="#2d5fa8" stroke-opacity="0.25" stroke-width="1"/>
<circle cx="232.9" cy="146.2" r="4.6" fill="#2d5fa8" fill-opacity="0.6" stroke="#2d5fa8" stroke-opacity="0.25" stroke-width="1"/>
<circle cx="220.3" cy="157.9" r="2.6" fill="#8430ce" fill-opacity="0.6" stroke="#8430ce" stroke-opacity="0.25" stroke-width="1"/>
<circle cx="290.8" cy="170.5" r="4.5" fill="#2d5fa8" fill-opacity="0.6" stroke="#2d5fa8" stroke-opacity="0.25" stroke-width="1"/>
<circle cx="243.8" cy="231.7" r="4.7" fill="#2d5fa8" fill-opacity="0.6" stroke="#2d5fa8" stroke-opacity="0.25" stroke-width="1"/>
<circle cx="240.2" cy="241.6" r="5.6" fill="#8430ce" fill-opacity="0.6" stroke="#8430ce" stroke-opacity="0.25" stroke-width="1"/>
<circle cx="271.2" cy="281.4" r="4.6" fill="#2d5fa8" fill-opacity="0.6" stroke="#2d5fa8" stroke-opacity="0.25" stroke-width="1"/>
<circle cx="276.9" cy="286.3" r="4.6" fill="#2d5fa8" fill-opacity="0.6" stroke="#2d5fa8" stroke-opacity="0.25" stroke-width="1"/>
<circle cx="276.9" cy="286.3" r="4.6" fill="#2d5fa8" fill-opacity="0.6" stroke="#2d5fa8" stroke-opacity="0.25" stroke-width="1"/>
<circle cx="283.4" cy="297.7" r="4.6" fill="#2d5fa8" fill-opacity="0.6" stroke="#2d5fa8" stroke-opacity="0.25" stroke-width="1"/>
<circle cx="327.4" cy="288.2" r="6.7" fill="#d93025" fill-opacity="0.6" stroke="#d93025" stroke-opacity="0.25" stroke-width="1"/>
<circle cx="337.2" cy="300.6" r="5.4" fill="#8430ce" fill-opacity="0.6" stroke="#8430ce" stroke-opacity="0.25" stroke-width="1"/>
<circle cx="339.8" cy="312.5" r="4.6" fill="#2d5fa8" fill-opacity="0.6" stroke="#2d5fa8" stroke-opacity="0.25" stroke-width="1"/>
<circle cx="352.7" cy="312.5" r="4.6" fill="#2d5fa8" fill-opacity="0.6" stroke="#2d5fa8" stroke-opacity="0.25" stroke-width="1"/>
<circle cx="380.4" cy="307.6" r="4.5" fill="#2d5fa8" fill-opacity="0.6" stroke="#2d5fa8" stroke-opacity="0.25" stroke-width="1"/>
<circle cx="397.6" cy="213.9" r="6.5" fill="#8430ce" fill-opacity="0.6" stroke="#8430ce" stroke-opacity="0.25" stroke-width="1"/>
<circle cx="396.5" cy="242.7" r="5.9" fill="#8430ce" fill-opacity="0.6" stroke="#8430ce" stroke-opacity="0.25" stroke-width="1"/>
<circle cx="486.6" cy="223.5" r="6.2" fill="#8430ce" fill-opacity="0.6" stroke="#8430ce" stroke-opacity="0.25" stroke-width="1"/>
<circle cx="461.3" cy="267.6" r="6.9" fill="#188038" fill-opacity="0.6" stroke="#188038" stroke-opacity="0.25" stroke-width="1"/>
<circle cx="462.3" cy="267" r="4.5" fill="#2d5fa8" fill-opacity="0.6" stroke="#2d5fa8" stroke-opacity="0.25" stroke-width="1"/>
<circle cx="467.9" cy="295.7" r="4.4" fill="#2d5fa8" fill-opacity="0.6" stroke="#2d5fa8" stroke-opacity="0.25" stroke-width="1"/>
<circle cx="481.4" cy="324.8" r="4.6" fill="#2d5fa8" fill-opacity="0.6" stroke="#2d5fa8" stroke-opacity="0.25" stroke-width="1"/>
<circle cx="454.8" cy="332.9" r="6.9" fill="#d93025" fill-opacity="0.6" stroke="#d93025" stroke-opacity="0.25" stroke-width="1"/>
<circle cx="452.6" cy="330.9" r="4.5" fill="#2d5fa8" fill-opacity="0.6" stroke="#2d5fa8" stroke-opacity="0.25" stroke-width="1"/>
<circle cx="435.7" cy="340" r="4.6" fill="#2d5fa8" fill-opacity="0.6" stroke="#2d5fa8" stroke-opacity="0.25" stroke-width="1"/>
<circle cx="455.2" cy="366.2" r="5.5" fill="#f4b400" fill-opacity="0.6" stroke="#f4b400" stroke-opacity="0.25" stroke-width="1"/>
<circle cx="461.2" cy="365.7" r="4.6" fill="#2d5fa8" fill-opacity="0.6" stroke="#2d5fa8" stroke-opacity="0.25" stroke-width="1"/>
<circle cx="509" cy="312.5" r="4.6" fill="#2d5fa8" fill-opacity="0.6" stroke="#2d5fa8" stroke-opacity="0.25" stroke-width="1"/>
<circle cx="520.2" cy="321.6" r="5.7" fill="#f4b400" fill-opacity="0.6" stroke="#f4b400" stroke-opacity="0.25" stroke-width="1"/>
<circle cx="560.6" cy="259.2" r="4.6" fill="#2d5fa8" fill-opacity="0.6" stroke="#2d5fa8" stroke-opacity="0.25" stroke-width="1"/>
<circle cx="560.6" cy="259.2" r="4.6" fill="#2d5fa8" fill-opacity="0.6" stroke="#2d5fa8" stroke-opacity="0.25" stroke-width="1"/>
<circle cx="532.4" cy="271.2" r="4.6" fill="#2d5fa8" fill-opacity="0.6" stroke="#2d5fa8" stroke-opacity="0.25" stroke-width="1"/>
<circle cx="587.3" cy="281.1" r="6.4" fill="#d93025" fill-opacity="0.6" stroke="#d93025" stroke-opacity="0.25" stroke-width="1"/>
<circle cx="613.6" cy="270" r="4.6" fill="#2d5fa8" fill-opacity="0.6" stroke="#2d5fa8" stroke-opacity="0.25" stroke-width="1"/>
<circle cx="613.2" cy="283.6" r="4.6" fill="#2d5fa8" fill-opacity="0.6" stroke="#2d5fa8" stroke-opacity="0.25" stroke-width="1"/>
<circle cx="633" cy="263.8" r="4.6" fill="#2d5fa8" fill-opacity="0.6" stroke="#2d5fa8" stroke-opacity="0.25" stroke-width="1"/>
<circle cx="623.9" cy="259.6" r="2.5" fill="#8430ce" fill-opacity="0.6" stroke="#8430ce" stroke-opacity="0.25" stroke-width="1"/>
<circle cx="649.5" cy="256.4" r="6.7" fill="#8430ce" fill-opacity="0.6" stroke="#8430ce" stroke-opacity="0.25" stroke-width="1"/>
<circle cx="645.7" cy="241.4" r="7" fill="#188038" fill-opacity="0.6" stroke="#188038" stroke-opacity="0.25" stroke-width="1"/>
<circle cx="628.3" cy="237.7" r="2.1" fill="#188038" fill-opacity="0.6" stroke="#188038" stroke-opacity="0.25" stroke-width="1"/>
<circle cx="603.4" cy="327.3" r="9.1" fill="#f4b400" fill-opacity="0.6" stroke="#f4b400" stroke-opacity="0.25" stroke-width="1"/>
<circle cx="607.6" cy="323.2" r="4.6" fill="#2d5fa8" fill-opacity="0.6" stroke="#2d5fa8" stroke-opacity="0.25" stroke-width="1"/>
<circle cx="612" cy="343" r="6.9" fill="#f4b400" fill-opacity="0.6" stroke="#f4b400" stroke-opacity="0.25" stroke-width="1"/>
<circle cx="611.4" cy="341.4" r="4.6" fill="#2d5fa8" fill-opacity="0.6" stroke="#2d5fa8" stroke-opacity="0.25" stroke-width="1"/>
<circle cx="606.6" cy="365.9" r="4.6" fill="#2d5fa8" fill-opacity="0.6" stroke="#2d5fa8" stroke-opacity="0.25" stroke-width="1"/>
<circle cx="619.3" cy="365.9" r="4.6" fill="#2d5fa8" fill-opacity="0.6" stroke="#2d5fa8" stroke-opacity="0.25" stroke-width="1"/>
<circle cx="620.7" cy="370.3" r="4.6" fill="#2d5fa8" fill-opacity="0.6" stroke="#2d5fa8" stroke-opacity="0.25" stroke-width="1"/>
<circle cx="498.3" cy="155.9" r="6.5" fill="#188038" fill-opacity="0.6" stroke="#188038" stroke-opacity="0.25" stroke-width="1"/>
<circle cx="505.2" cy="153.6" r="6.5" fill="#188038" fill-opacity="0.6" stroke="#188038" stroke-opacity="0.25" stroke-width="1"/>
<circle cx="570.7" cy="178.8" r="4.6" fill="#2d5fa8" fill-opacity="0.6" stroke="#2d5fa8" stroke-opacity="0.25" stroke-width="1"/>
<circle cx="590.7" cy="187.8" r="4.6" fill="#d93025" fill-opacity="0.6" stroke="#d93025" stroke-opacity="0.25" stroke-width="1"/>
<circle cx="592.8" cy="185.2" r="4.6" fill="#2d5fa8" fill-opacity="0.6" stroke="#2d5fa8" stroke-opacity="0.25" stroke-width="1"/>
<circle cx="592.8" cy="185.2" r="4.6" fill="#2d5fa8" fill-opacity="0.6" stroke="#2d5fa8" stroke-opacity="0.25" stroke-width="1"/>
<circle cx="595.3" cy="186" r="4.6" fill="#2d5fa8" fill-opacity="0.6" stroke="#2d5fa8" stroke-opacity="0.25" stroke-width="1"/>
<circle cx="555.7" cy="196.9" r="5.5" fill="#188038" fill-opacity="0.6" stroke="#188038" stroke-opacity="0.25" stroke-width="1"/>
<circle cx="566.4" cy="215.3" r="4.6" fill="#2d5fa8" fill-opacity="0.6" stroke="#2d5fa8" stroke-opacity="0.25" stroke-width="1"/>
<circle cx="595.7" cy="213.6" r="4.6" fill="#2d5fa8" fill-opacity="0.6" stroke="#2d5fa8" stroke-opacity="0.25" stroke-width="1"/>
<circle cx="622.5" cy="208.7" r="4.7" fill="#2d5fa8" fill-opacity="0.6" stroke="#2d5fa8" stroke-opacity="0.25" stroke-width="1"/>
<circle cx="622.5" cy="208.7" r="4.7" fill="#2d5fa8" fill-opacity="0.6" stroke="#2d5fa8" stroke-opacity="0.25" stroke-width="1"/>
<circle cx="657.9" cy="207.9" r="7" fill="#d93025" fill-opacity="0.6" stroke="#d93025" stroke-opacity="0.25" stroke-width="1"/>
<circle cx="671.6" cy="204" r="7" fill="#d93025" fill-opacity="0.6" stroke="#d93025" stroke-opacity="0.25" stroke-width="1"/>
<circle cx="642" cy="219.3" r="6.4" fill="#d93025" fill-opacity="0.6" stroke="#d93025" stroke-opacity="0.25" stroke-width="1"/>
<circle cx="674.8" cy="197.4" r="6.4" fill="#188038" fill-opacity="0.6" stroke="#188038" stroke-opacity="0.25" stroke-width="1"/>
<circle cx="676.1" cy="197" r="4.8" fill="#2d5fa8" fill-opacity="0.6" stroke="#2d5fa8" stroke-opacity="0.25" stroke-width="1"/>
<circle cx="676.1" cy="197" r="4.8" fill="#2d5fa8" fill-opacity="0.6" stroke="#2d5fa8" stroke-opacity="0.25" stroke-width="1"/>
<circle cx="673.9" cy="205" r="4.6" fill="#2d5fa8" fill-opacity="0.6" stroke="#2d5fa8" stroke-opacity="0.25" stroke-width="1"/>
<circle cx="682.3" cy="205.2" r="4.6" fill="#2d5fa8" fill-opacity="0.6" stroke="#2d5fa8" stroke-opacity="0.25" stroke-width="1"/>
<circle cx="652.3" cy="214.4" r="4.6" fill="#2d5fa8" fill-opacity="0.6" stroke="#2d5fa8" stroke-opacity="0.25" stroke-width="1"/>
<circle cx="653" cy="219.7" r="4.6" fill="#2d5fa8" fill-opacity="0.6" stroke="#2d5fa8" stroke-opacity="0.25" stroke-width="1"/>
<circle cx="664.7" cy="213.5" r="4.6" fill="#2d5fa8" fill-opacity="0.6" stroke="#2d5fa8" stroke-opacity="0.25" stroke-width="1"/>
<circle cx="667.3" cy="215.3" r="4.6" fill="#2d5fa8" fill-opacity="0.6" stroke="#2d5fa8" stroke-opacity="0.25" stroke-width="1"/>
<circle cx="647.8" cy="225.9" r="4.6" fill="#2d5fa8" fill-opacity="0.6" stroke="#2d5fa8" stroke-opacity="0.25" stroke-width="1"/>
<circle cx="647.8" cy="225.9" r="4.6" fill="#2d5fa8" fill-opacity="0.6" stroke="#2d5fa8" stroke-opacity="0.25" stroke-width="1"/>
<circle cx="649.9" cy="227.8" r="4.6" fill="#2d5fa8" fill-opacity="0.6" stroke="#2d5fa8" stroke-opacity="0.25" stroke-width="1"/>
<circle cx="682.2" cy="157.3" r="2.3" fill="#8430ce" fill-opacity="0.6" stroke="#8430ce" stroke-opacity="0.25" stroke-width="1"/>
<circle cx="711.4" cy="170" r="4.5" fill="#2d5fa8" fill-opacity="0.6" stroke="#2d5fa8" stroke-opacity="0.25" stroke-width="1"/>
<circle cx="700.6" cy="180.6" r="5.2" fill="#188038" fill-opacity="0.6" stroke="#188038" stroke-opacity="0.25" stroke-width="1"/>
<circle cx="700.2" cy="179.2" r="4.6" fill="#2d5fa8" fill-opacity="0.6" stroke="#2d5fa8" stroke-opacity="0.25" stroke-width="1"/>
<circle cx="701.5" cy="181.4" r="4.6" fill="#2d5fa8" fill-opacity="0.6" stroke="#2d5fa8" stroke-opacity="0.25" stroke-width="1"/>
<circle cx="703.9" cy="186.4" r="4.6" fill="#2d5fa8" fill-opacity="0.6" stroke="#2d5fa8" stroke-opacity="0.25" stroke-width="1"/>
<circle cx="689.4" cy="193" r="4.6" fill="#2d5fa8" fill-opacity="0.6" stroke="#2d5fa8" stroke-opacity="0.25" stroke-width="1"/>
<circle cx="749.3" cy="442" r="4" fill="#2d5fa8" fill-opacity="0.6" stroke="#2d5fa8" stroke-opacity="0.25" stroke-width="1"/>
</svg>
<div class="ctl mt"><span style="left:0;width:56px;color:#000;font-weight:bold;border-right:1px solid #e6e6e6">Map</span><span style="left:56px;width:78px;color:#565656">Satellite</span></div>
<div class="ctl" style="left:913px;top:8px;width:32px;height:32px">
<svg width="32" height="32" viewBox="0 0 32 32"><path d="M9,13.5 V9 H13.5 M18.5,9 H23 V13.5 M23,18.5 V23 H18.5 M13.5,23 H9 V18.5" fill="none" stroke="#666" stroke-width="2"/></svg></div>
<div class="ctl" style="left:913px;top:331px;width:32px;height:32px">
<svg width="32" height="32" viewBox="1.6 1.9 32 32"><path d="M13.4,13.4 Q12.6,13.4 12.3,14.6 L10.6,21.6 Q10.4,22.9 11.6,22.9 L12.4,22.9 L13.6,18.2 L13.6,28.8 L16.3,28.8 L16.3,22.3 L17.5,22.3 L17.5,28.8 L20.2,28.8 L20.2,18.2 L21.4,22.9 L22.2,22.9 Q23.4,22.9 23.2,21.6 L21.5,14.6 Q21.2,13.4 20.4,13.4 Z" fill="#fbbc04" stroke="#e8a000" stroke-width="0.5"/><circle cx="16.9" cy="9.7" r="4" fill="#fbbc04" stroke="#e8a000" stroke-width="0.5"/><path d="M14.6,13.5 L16.9,17 L19.2,13.5 Z" fill="#e8710a"/></svg></div>
<div class="ctl" style="left:913px;top:388px;width:32px;height:65px">
<svg width="32" height="65" viewBox="0 0 32 65"><path d="M9.5,16.5 H22.5 M16,10 V23" stroke="#666" stroke-width="2"/><path d="M6,32.5 H26" stroke="#e6e6e6" stroke-width="1"/><path d="M9.5,48.5 H22.5" stroke="#666" stroke-width="2"/></svg></div>
<div style="position:absolute;left:7.8px;top:451.6px;font-size:14.6px;font-weight:bold;color:#fff;-webkit-text-stroke:2.2px #5a5a5a;paint-order:stroke;letter-spacing:-0.45px;transform:scaleX(0.95);transform-origin:0 0">Google</div>
<div class="attr" style="left:722.9px;width:229.1px"><span style="left:2px">Keyboard shortcuts</span><span style="left:76px;top:0;width:1px;height:10.6px;background:#d6d6d6"></span><span style="left:81.5px;letter-spacing:-0.1px">Map data ©2026 Google, INEGI</span><span style="left:198.9px;top:0;width:1px;height:10.6px;background:#d6d6d6"></span><span style="left:202.5px">Terms</span></div>
</div>
<div class="legend">
<div class="lg lh" style="left:127px;top:12px">&#35; of Beds (Warehouses)</div>
<div class="lg li" style="left:127.5px;top:30.9px">0</div>
<div class="dot" style="left:142.7px;top:34.9px;width:4px;height:4px;background:#808080"></div>
<div class="dot" style="left:156.8px;top:31.1px;width:11.6px;height:11.6px;background:#808080"></div>
<div class="dot" style="left:178.6px;top:27.3px;width:19.2px;height:19.2px;background:#808080"></div>
<div class="lg li" style="left:208.5px;top:30.9px">15,000</div>
<div class="lg lh" style="left:262.5px;top:12px">Status</div>
<div class="dot" style="left:262.4px;top:31.8px;width:10px;height:10px;background:#f4b400"></div>
<div class="lg li" style="left:275.5px;top:30.9px">PROSPECTIVE SITE</div>
<div class="dot" style="left:371px;top:31.8px;width:10px;height:10px;background:#188038"></div>
<div class="lg li" style="left:384.5px;top:30.9px">SALE CANCELED</div>
<div class="dot" style="left:469px;top:31.8px;width:10px;height:10px;background:#d93025"></div>
<div class="lg li" style="left:482.3px;top:30.9px">BOUGHT BY ICE</div>
<div class="dot" style="left:561.9px;top:31.8px;width:10px;height:10px;background:#7e2fd0"></div>
<div class="lg li" style="left:574.8px;top:30.9px">PENDING REOPENING</div>
<div class="dot" style="left:682.3px;top:31.8px;width:10px;height:10px;background:#2e61aa"></div>
<div class="lg li" style="left:696px;top:30.9px">PROSPECTIVE ADMIN OFFICE</div>
</div>
<div class="card" style="top:34.3px;background:#388e3c"><div class="t">Sales Canceled</div><div class="n">12</div></div>
<div class="card" style="top:145px;background:#fb8c00"><div class="t">Potential Warehouses</div><div class="n">6</div></div>
<div class="card" style="top:255.7px;background:#f44336"><div class="t">Warehouses Acquired</div><div class="n">10</div></div>
<div class="card" style="top:366.4px;background:#ab47bc"><div class="t">Pending Reopening</div><div class="n">9</div></div>
<div class="card" style="top:477.1px;background:#1565c0"><div class="t" style="left:4.5px;transform:scaleX(0.972)">Potential Admin Offices</div><div class="n">54</div></div>
<div class="sb"></div>
</body></html>
